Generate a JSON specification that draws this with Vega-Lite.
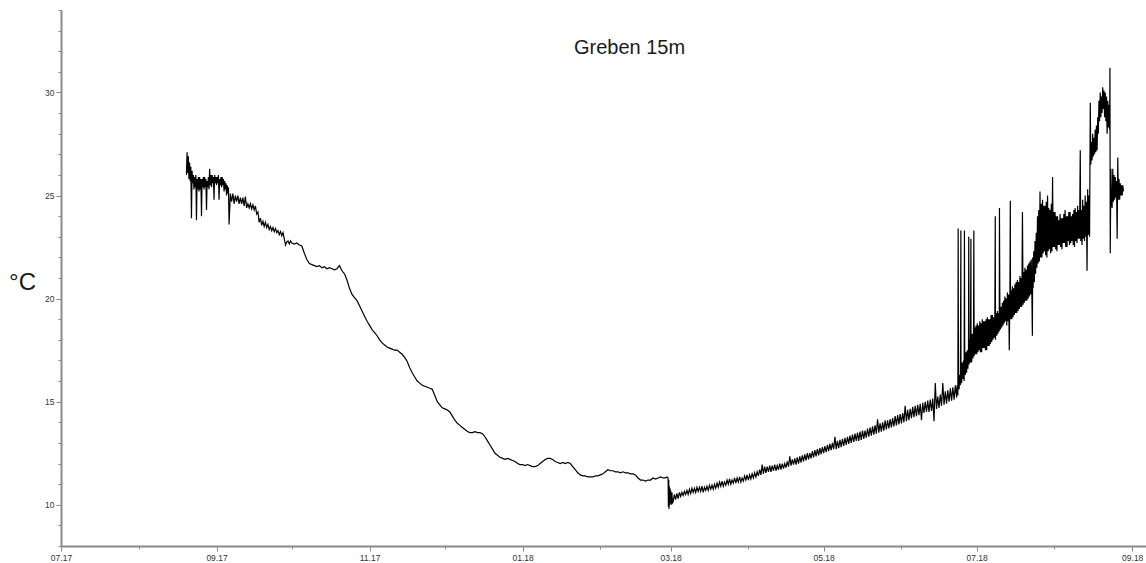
{
"$schema":"https://vega.github.io/schema/vega-lite/v6.json",
"width":1085,"height":536,
"autosize":{"type":"none"},
"padding":{"left":61,"top":10,"right":0,"bottom":17},
"background":"#ffffff",
"config":{"view":{"stroke":null},"font":"Liberation Sans"},
"title":{"text":"Greben 15m","fontSize":20,"fontWeight":"normal","font":"Liberation Sans","color":"#1a1a1a","anchor":"middle","frame":"group","offset":0,"dx":26,"dy":68,"baseline":"alphabetic"},
"data":{"values":[
{"d":"2017-08-20T00:00","t":26.0},{"d":"2017-08-20T06:00","t":27.1},{"d":"2017-08-20T12:00","t":26.1},{"d":"2017-08-20T18:00","t":26.9},
{"d":"2017-08-21T00:00","t":25.8},{"d":"2017-08-21T06:00","t":26.6},{"d":"2017-08-21T12:00","t":25.7},{"d":"2017-08-21T18:00","t":26.4},
{"d":"2017-08-22T00:00","t":23.9},{"d":"2017-08-22T06:00","t":26.2},{"d":"2017-08-22T12:00","t":25.6},{"d":"2017-08-22T18:00","t":26.0},
{"d":"2017-08-23T00:00","t":25.3},{"d":"2017-08-23T06:00","t":25.9},{"d":"2017-08-23T12:00","t":25.4},{"d":"2017-08-23T18:00","t":26.0},
{"d":"2017-08-24T00:00","t":23.8},{"d":"2017-08-24T06:00","t":25.8},{"d":"2017-08-24T12:00","t":25.3},{"d":"2017-08-24T18:00","t":25.9},
{"d":"2017-08-25T00:00","t":25.2},{"d":"2017-08-25T06:00","t":25.9},{"d":"2017-08-25T12:00","t":25.3},{"d":"2017-08-25T18:00","t":25.8},
{"d":"2017-08-26T00:00","t":24.0},{"d":"2017-08-26T06:00","t":25.8},{"d":"2017-08-26T12:00","t":25.4},{"d":"2017-08-26T18:00","t":25.9},
{"d":"2017-08-27T00:00","t":25.3},{"d":"2017-08-27T06:00","t":25.9},{"d":"2017-08-27T12:00","t":25.4},{"d":"2017-08-27T18:00","t":25.8},
{"d":"2017-08-28T00:00","t":24.3},{"d":"2017-08-28T06:00","t":25.7},{"d":"2017-08-28T12:00","t":25.4},{"d":"2017-08-28T18:00","t":25.9},
{"d":"2017-08-29T00:00","t":25.3},{"d":"2017-08-29T06:00","t":26.3},{"d":"2017-08-29T12:00","t":25.5},{"d":"2017-08-29T18:00","t":26.0},
{"d":"2017-08-30T00:00","t":25.4},{"d":"2017-08-30T06:00","t":26.0},{"d":"2017-08-30T12:00","t":25.6},{"d":"2017-08-30T18:00","t":25.9},
{"d":"2017-08-31T00:00","t":24.8},{"d":"2017-08-31T06:00","t":26.0},{"d":"2017-08-31T12:00","t":25.6},{"d":"2017-08-31T18:00","t":25.9},
{"d":"2017-09-01T00:00","t":25.5},{"d":"2017-09-01T06:00","t":25.9},{"d":"2017-09-01T12:00","t":25.6},{"d":"2017-09-01T18:00","t":26.0},
{"d":"2017-09-02T00:00","t":24.8},{"d":"2017-09-02T06:00","t":25.8},{"d":"2017-09-02T12:00","t":25.5},{"d":"2017-09-02T18:00","t":25.9},
{"d":"2017-09-03T00:00","t":25.4},{"d":"2017-09-03T06:00","t":25.9},{"d":"2017-09-03T12:00","t":25.5},{"d":"2017-09-03T18:00","t":25.8},
{"d":"2017-09-04T00:00","t":25.2},{"d":"2017-09-04T06:00","t":25.7},{"d":"2017-09-04T12:00","t":25.3},{"d":"2017-09-04T18:00","t":25.6},
{"d":"2017-09-05T00:00","t":25.0},{"d":"2017-09-05T06:00","t":25.5},{"d":"2017-09-05T12:00","t":25.1},{"d":"2017-09-05T18:00","t":25.4},
{"d":"2017-09-06T00:00","t":23.6},{"d":"2017-09-06T12:00","t":25.1},
{"d":"2017-09-07T00:00","t":24.7},{"d":"2017-09-07T12:00","t":25.1},
{"d":"2017-09-08T00:00","t":24.6},{"d":"2017-09-08T12:00","t":25.0},
{"d":"2017-09-09T00:00","t":24.7},{"d":"2017-09-09T12:00","t":25.0},
{"d":"2017-09-10T00:00","t":24.6},{"d":"2017-09-10T12:00","t":24.9},
{"d":"2017-09-11T00:00","t":24.6},{"d":"2017-09-11T12:00","t":24.9},
{"d":"2017-09-12T00:00","t":24.5},{"d":"2017-09-12T12:00","t":24.95},
{"d":"2017-09-13T00:00","t":24.4},{"d":"2017-09-13T12:00","t":24.6},
{"d":"2017-09-14T00:00","t":24.4},{"d":"2017-09-14T12:00","t":24.6},
{"d":"2017-09-15T00:00","t":24.35},{"d":"2017-09-15T12:00","t":24.55},
{"d":"2017-09-16T00:00","t":24.3},{"d":"2017-09-16T12:00","t":24.5},
{"d":"2017-09-17T00:00","t":24.1},{"d":"2017-09-17T12:00","t":24.2},
{"d":"2017-09-18T00:00","t":23.7},{"d":"2017-09-18T12:00","t":23.9},
{"d":"2017-09-19T00:00","t":23.55},{"d":"2017-09-19T12:00","t":23.75},
{"d":"2017-09-20T00:00","t":23.5},{"d":"2017-09-20T12:00","t":23.7},
{"d":"2017-09-21T00:00","t":23.45},{"d":"2017-09-21T12:00","t":23.6},
{"d":"2017-09-22T00:00","t":23.35},{"d":"2017-09-22T12:00","t":23.5},
{"d":"2017-09-23T00:00","t":23.3},{"d":"2017-09-23T12:00","t":23.45},
{"d":"2017-09-24T00:00","t":23.25},{"d":"2017-09-24T12:00","t":23.4},
{"d":"2017-09-25T00:00","t":23.2},{"d":"2017-09-25T12:00","t":23.3},
{"d":"2017-09-26T00:00","t":23.1},{"d":"2017-09-26T12:00","t":23.25},
{"d":"2017-09-27T00:00","t":23.05},{"d":"2017-09-27T12:00","t":23.2},
{"d":"2017-09-28T00:00","t":22.9},{"d":"2017-09-28T12:00","t":22.6},
{"d":"2017-09-29T00:00","t":22.75},{"d":"2017-09-29T12:00","t":22.8},
{"d":"2017-09-30T00:00","t":22.65},{"d":"2017-09-30T12:00","t":22.8},
{"d":"2017-10-01T00:00","t":22.7},{"d":"2017-10-02T00:00","t":22.65},{"d":"2017-10-03T00:00","t":22.7},{"d":"2017-10-04T00:00","t":22.6},{"d":"2017-10-05T00:00","t":22.55},
{"d":"2017-10-06T00:00","t":22.2},{"d":"2017-10-07T00:00","t":21.9},{"d":"2017-10-08T00:00","t":21.7},{"d":"2017-10-09T00:00","t":21.65},{"d":"2017-10-10T00:00","t":21.6},
{"d":"2017-10-11T00:00","t":21.55},{"d":"2017-10-12T00:00","t":21.6},{"d":"2017-10-13T00:00","t":21.5},{"d":"2017-10-14T00:00","t":21.55},{"d":"2017-10-15T00:00","t":21.45},
{"d":"2017-10-16T00:00","t":21.5},{"d":"2017-10-17T00:00","t":21.45},{"d":"2017-10-18T00:00","t":21.4},{"d":"2017-10-19T00:00","t":21.45},{"d":"2017-10-20T00:00","t":21.6},
{"d":"2017-10-21T00:00","t":21.35},{"d":"2017-10-22T00:00","t":21.2},{"d":"2017-10-23T00:00","t":20.9},{"d":"2017-10-24T00:00","t":20.5},{"d":"2017-10-25T00:00","t":20.2},
{"d":"2017-10-26T00:00","t":20.05},{"d":"2017-10-27T00:00","t":19.9},{"d":"2017-10-28T00:00","t":19.65},{"d":"2017-10-29T00:00","t":19.4},{"d":"2017-10-30T00:00","t":19.15},
{"d":"2017-10-31T00:00","t":18.9},{"d":"2017-11-01T00:00","t":18.7},{"d":"2017-11-02T00:00","t":18.5},{"d":"2017-11-03T00:00","t":18.35},{"d":"2017-11-04T00:00","t":18.2},
{"d":"2017-11-05T00:00","t":18.0},{"d":"2017-11-06T00:00","t":17.85},{"d":"2017-11-07T00:00","t":17.75},{"d":"2017-11-08T00:00","t":17.65},{"d":"2017-11-09T00:00","t":17.6},
{"d":"2017-11-10T00:00","t":17.55},{"d":"2017-11-11T00:00","t":17.5},{"d":"2017-11-12T00:00","t":17.5},{"d":"2017-11-13T00:00","t":17.4},{"d":"2017-11-14T00:00","t":17.3},
{"d":"2017-11-15T00:00","t":17.15},{"d":"2017-11-16T00:00","t":16.95},{"d":"2017-11-17T00:00","t":16.65},{"d":"2017-11-18T00:00","t":16.4},{"d":"2017-11-19T00:00","t":16.2},
{"d":"2017-11-20T00:00","t":16.0},{"d":"2017-11-21T00:00","t":15.9},{"d":"2017-11-22T00:00","t":15.8},{"d":"2017-11-23T00:00","t":15.75},{"d":"2017-11-24T00:00","t":15.7},
{"d":"2017-11-25T00:00","t":15.65},{"d":"2017-11-26T00:00","t":15.6},{"d":"2017-11-27T00:00","t":15.3},{"d":"2017-11-28T00:00","t":15.0},{"d":"2017-11-29T00:00","t":14.85},
{"d":"2017-11-30T00:00","t":14.7},{"d":"2017-12-01T00:00","t":14.65},{"d":"2017-12-02T00:00","t":14.6},{"d":"2017-12-03T00:00","t":14.5},{"d":"2017-12-04T00:00","t":14.3},
{"d":"2017-12-05T00:00","t":14.1},{"d":"2017-12-06T00:00","t":13.95},{"d":"2017-12-07T00:00","t":13.85},{"d":"2017-12-08T00:00","t":13.75},{"d":"2017-12-09T00:00","t":13.65},
{"d":"2017-12-10T00:00","t":13.55},{"d":"2017-12-11T00:00","t":13.5},{"d":"2017-12-12T00:00","t":13.5},{"d":"2017-12-13T00:00","t":13.55},{"d":"2017-12-14T00:00","t":13.5},
{"d":"2017-12-15T00:00","t":13.5},{"d":"2017-12-16T00:00","t":13.45},{"d":"2017-12-17T00:00","t":13.3},{"d":"2017-12-18T00:00","t":13.1},{"d":"2017-12-19T00:00","t":12.9},
{"d":"2017-12-20T00:00","t":12.7},{"d":"2017-12-21T00:00","t":12.5},{"d":"2017-12-22T00:00","t":12.4},{"d":"2017-12-23T00:00","t":12.3},{"d":"2017-12-24T00:00","t":12.25},
{"d":"2017-12-25T00:00","t":12.2},{"d":"2017-12-26T00:00","t":12.25},{"d":"2017-12-27T00:00","t":12.2},{"d":"2017-12-28T00:00","t":12.15},{"d":"2017-12-29T00:00","t":12.1},
{"d":"2017-12-30T00:00","t":12.0},{"d":"2017-12-31T00:00","t":11.95},{"d":"2018-01-01T00:00","t":11.95},{"d":"2018-01-02T00:00","t":11.9},{"d":"2018-01-03T00:00","t":11.95},
{"d":"2018-01-04T00:00","t":11.9},{"d":"2018-01-05T00:00","t":11.85},{"d":"2018-01-06T00:00","t":11.85},{"d":"2018-01-07T00:00","t":11.9},{"d":"2018-01-08T00:00","t":12.0},
{"d":"2018-01-09T00:00","t":12.1},{"d":"2018-01-10T00:00","t":12.2},{"d":"2018-01-11T00:00","t":12.25},{"d":"2018-01-12T00:00","t":12.25},{"d":"2018-01-13T00:00","t":12.2},
{"d":"2018-01-14T00:00","t":12.1},{"d":"2018-01-15T00:00","t":12.05},{"d":"2018-01-16T00:00","t":12.0},{"d":"2018-01-17T00:00","t":12.05},{"d":"2018-01-18T00:00","t":12.0},
{"d":"2018-01-19T00:00","t":12.05},{"d":"2018-01-20T00:00","t":12.0},{"d":"2018-01-21T00:00","t":11.85},{"d":"2018-01-22T00:00","t":11.7},{"d":"2018-01-23T00:00","t":11.55},
{"d":"2018-01-24T00:00","t":11.45},{"d":"2018-01-25T00:00","t":11.4},{"d":"2018-01-26T00:00","t":11.4},{"d":"2018-01-27T00:00","t":11.35},{"d":"2018-01-28T00:00","t":11.35},
{"d":"2018-01-29T00:00","t":11.35},{"d":"2018-01-30T00:00","t":11.4},{"d":"2018-01-31T00:00","t":11.4},{"d":"2018-02-01T00:00","t":11.45},{"d":"2018-02-02T00:00","t":11.5},
{"d":"2018-02-03T00:00","t":11.6},{"d":"2018-02-04T00:00","t":11.7},{"d":"2018-02-05T00:00","t":11.65},{"d":"2018-02-06T00:00","t":11.65},{"d":"2018-02-07T00:00","t":11.6},
{"d":"2018-02-08T00:00","t":11.6},{"d":"2018-02-09T00:00","t":11.55},{"d":"2018-02-10T00:00","t":11.6},{"d":"2018-02-11T00:00","t":11.55},{"d":"2018-02-12T00:00","t":11.55},
{"d":"2018-02-13T00:00","t":11.5},{"d":"2018-02-14T00:00","t":11.5},{"d":"2018-02-15T00:00","t":11.45},{"d":"2018-02-16T00:00","t":11.3},{"d":"2018-02-17T00:00","t":11.2},
{"d":"2018-02-18T00:00","t":11.2},{"d":"2018-02-19T00:00","t":11.15},{"d":"2018-02-20T00:00","t":11.2},{"d":"2018-02-21T00:00","t":11.2},{"d":"2018-02-22T00:00","t":11.3},
{"d":"2018-02-23T00:00","t":11.25},{"d":"2018-02-24T00:00","t":11.3},{"d":"2018-02-25T00:00","t":11.35},{"d":"2018-02-26T00:00","t":11.3},
{"d":"2018-02-27T00:00","t":11.3},{"d":"2018-02-27T12:00","t":11.35},
{"d":"2018-02-28T00:00","t":11.3},{"d":"2018-02-28T03:00","t":9.9},{"d":"2018-02-28T06:00","t":11.2},{"d":"2018-02-28T09:00","t":9.8},{"d":"2018-02-28T12:00","t":10.9},{"d":"2018-02-28T15:00","t":10.0},{"d":"2018-02-28T18:00","t":10.8},{"d":"2018-02-28T21:00","t":10.1},
{"d":"2018-03-01T00:00","t":10.7},{"d":"2018-03-01T06:00","t":10.0},{"d":"2018-03-01T12:00","t":10.6},{"d":"2018-03-01T18:00","t":10.1},
{"d":"2018-03-02T00:00","t":10.15},{"d":"2018-03-02T12:00","t":10.5},
{"d":"2018-03-03T00:00","t":10.25},{"d":"2018-03-03T12:00","t":10.55},
{"d":"2018-03-04T00:00","t":10.3},{"d":"2018-03-04T12:00","t":10.6},
{"d":"2018-03-05T00:00","t":10.4},{"d":"2018-03-05T12:00","t":10.6},
{"d":"2018-03-06T00:00","t":10.45},{"d":"2018-03-06T12:00","t":10.65},
{"d":"2018-03-07T00:00","t":10.5},{"d":"2018-03-07T12:00","t":10.7},
{"d":"2018-03-08T00:00","t":10.5},{"d":"2018-03-08T12:00","t":10.75},
{"d":"2018-03-09T00:00","t":10.55},{"d":"2018-03-09T12:00","t":10.8},
{"d":"2018-03-10T00:00","t":10.6},{"d":"2018-03-10T12:00","t":10.8},
{"d":"2018-03-11T00:00","t":10.6},{"d":"2018-03-11T12:00","t":10.85},
{"d":"2018-03-12T00:00","t":10.65},{"d":"2018-03-12T12:00","t":10.85},
{"d":"2018-03-13T00:00","t":10.65},{"d":"2018-03-13T12:00","t":10.9},
{"d":"2018-03-14T00:00","t":10.6},{"d":"2018-03-14T12:00","t":10.85},
{"d":"2018-03-15T00:00","t":10.7},{"d":"2018-03-15T12:00","t":10.9},
{"d":"2018-03-16T00:00","t":10.7},{"d":"2018-03-16T12:00","t":10.95},
{"d":"2018-03-17T00:00","t":10.75},{"d":"2018-03-17T12:00","t":10.95},
{"d":"2018-03-18T00:00","t":10.75},{"d":"2018-03-18T12:00","t":11.0},
{"d":"2018-03-19T00:00","t":10.8},{"d":"2018-03-19T12:00","t":11.05},
{"d":"2018-03-20T00:00","t":10.85},{"d":"2018-03-20T12:00","t":11.1},
{"d":"2018-03-21T00:00","t":10.9},{"d":"2018-03-21T12:00","t":11.15},
{"d":"2018-03-22T00:00","t":10.9},{"d":"2018-03-22T12:00","t":11.1},
{"d":"2018-03-23T00:00","t":10.95},{"d":"2018-03-23T12:00","t":11.2},
{"d":"2018-03-24T00:00","t":11.0},{"d":"2018-03-24T12:00","t":11.25},
{"d":"2018-03-25T00:00","t":11.0},{"d":"2018-03-25T12:00","t":11.2},
{"d":"2018-03-26T00:00","t":11.05},{"d":"2018-03-26T12:00","t":11.3},
{"d":"2018-03-27T00:00","t":11.05},{"d":"2018-03-27T12:00","t":11.3},
{"d":"2018-03-28T00:00","t":11.1},{"d":"2018-03-28T12:00","t":11.35},
{"d":"2018-03-29T00:00","t":11.1},{"d":"2018-03-29T12:00","t":11.3},
{"d":"2018-03-30T00:00","t":11.15},{"d":"2018-03-30T12:00","t":11.4},
{"d":"2018-03-31T00:00","t":11.2},{"d":"2018-03-31T12:00","t":11.45},
{"d":"2018-04-01T00:00","t":11.2},{"d":"2018-04-01T12:00","t":11.45},
{"d":"2018-04-02T00:00","t":11.25},{"d":"2018-04-02T12:00","t":11.5},
{"d":"2018-04-03T00:00","t":11.3},{"d":"2018-04-03T12:00","t":11.55},
{"d":"2018-04-04T00:00","t":11.35},{"d":"2018-04-04T12:00","t":11.6},
{"d":"2018-04-05T00:00","t":11.4},{"d":"2018-04-05T12:00","t":11.7},
{"d":"2018-04-06T00:00","t":11.45},{"d":"2018-04-06T12:00","t":11.95},
{"d":"2018-04-07T00:00","t":11.5},{"d":"2018-04-07T12:00","t":11.85},
{"d":"2018-04-08T00:00","t":11.55},{"d":"2018-04-08T12:00","t":11.85},
{"d":"2018-04-09T00:00","t":11.6},{"d":"2018-04-09T12:00","t":11.9},
{"d":"2018-04-10T00:00","t":11.6},{"d":"2018-04-10T12:00","t":11.9},
{"d":"2018-04-11T00:00","t":11.65},{"d":"2018-04-11T12:00","t":11.95},
{"d":"2018-04-12T00:00","t":11.65},{"d":"2018-04-12T12:00","t":11.9},
{"d":"2018-04-13T00:00","t":11.7},{"d":"2018-04-13T12:00","t":12.0},
{"d":"2018-04-14T00:00","t":11.7},{"d":"2018-04-14T12:00","t":12.0},
{"d":"2018-04-15T00:00","t":11.75},{"d":"2018-04-15T12:00","t":12.0},
{"d":"2018-04-16T00:00","t":11.8},{"d":"2018-04-16T12:00","t":12.1},
{"d":"2018-04-17T00:00","t":11.85},{"d":"2018-04-17T12:00","t":12.35},
{"d":"2018-04-18T00:00","t":11.9},{"d":"2018-04-18T12:00","t":12.2},
{"d":"2018-04-19T00:00","t":11.95},{"d":"2018-04-19T12:00","t":12.25},
{"d":"2018-04-20T00:00","t":11.95},{"d":"2018-04-20T12:00","t":12.3},
{"d":"2018-04-21T00:00","t":12.0},{"d":"2018-04-21T12:00","t":12.35},
{"d":"2018-04-22T00:00","t":12.05},{"d":"2018-04-22T12:00","t":12.4},
{"d":"2018-04-23T00:00","t":12.1},{"d":"2018-04-23T12:00","t":12.45},
{"d":"2018-04-24T00:00","t":12.15},{"d":"2018-04-24T12:00","t":12.5},
{"d":"2018-04-25T00:00","t":12.2},{"d":"2018-04-25T12:00","t":12.5},
{"d":"2018-04-26T00:00","t":12.25},{"d":"2018-04-26T12:00","t":12.6},
{"d":"2018-04-27T00:00","t":12.3},{"d":"2018-04-27T12:00","t":12.65},
{"d":"2018-04-28T00:00","t":12.35},{"d":"2018-04-28T12:00","t":12.7},
{"d":"2018-04-29T00:00","t":12.4},{"d":"2018-04-29T12:00","t":12.75},
{"d":"2018-04-30T00:00","t":12.45},{"d":"2018-04-30T12:00","t":12.8},
{"d":"2018-05-01T00:00","t":12.5},{"d":"2018-05-01T12:00","t":12.85},
{"d":"2018-05-02T00:00","t":12.55},{"d":"2018-05-02T12:00","t":12.9},
{"d":"2018-05-03T00:00","t":12.6},{"d":"2018-05-03T12:00","t":12.95},
{"d":"2018-05-04T00:00","t":12.65},{"d":"2018-05-04T12:00","t":13.0},
{"d":"2018-05-05T00:00","t":12.7},{"d":"2018-05-05T12:00","t":13.3},
{"d":"2018-05-06T00:00","t":12.7},{"d":"2018-05-06T12:00","t":13.1},
{"d":"2018-05-07T00:00","t":12.75},{"d":"2018-05-07T12:00","t":13.15},
{"d":"2018-05-08T00:00","t":12.8},{"d":"2018-05-08T12:00","t":13.2},
{"d":"2018-05-09T00:00","t":12.85},{"d":"2018-05-09T12:00","t":13.25},
{"d":"2018-05-10T00:00","t":12.9},{"d":"2018-05-10T12:00","t":13.3},
{"d":"2018-05-11T00:00","t":12.95},{"d":"2018-05-11T12:00","t":13.35},
{"d":"2018-05-12T00:00","t":13.0},{"d":"2018-05-12T12:00","t":13.4},
{"d":"2018-05-13T00:00","t":13.05},{"d":"2018-05-13T12:00","t":13.45},
{"d":"2018-05-14T00:00","t":13.1},{"d":"2018-05-14T12:00","t":13.5},
{"d":"2018-05-15T00:00","t":13.1},{"d":"2018-05-15T12:00","t":13.55},
{"d":"2018-05-16T00:00","t":13.15},{"d":"2018-05-16T12:00","t":13.6},
{"d":"2018-05-17T00:00","t":13.2},{"d":"2018-05-17T12:00","t":13.6},
{"d":"2018-05-18T00:00","t":13.25},{"d":"2018-05-18T12:00","t":13.7},
{"d":"2018-05-19T00:00","t":13.3},{"d":"2018-05-19T12:00","t":13.75},
{"d":"2018-05-20T00:00","t":13.35},{"d":"2018-05-20T12:00","t":13.8},
{"d":"2018-05-21T00:00","t":13.4},{"d":"2018-05-21T12:00","t":13.85},
{"d":"2018-05-22T00:00","t":13.45},{"d":"2018-05-22T12:00","t":14.15},
{"d":"2018-05-23T00:00","t":13.5},{"d":"2018-05-23T12:00","t":13.95},
{"d":"2018-05-24T00:00","t":13.55},{"d":"2018-05-24T12:00","t":14.0},
{"d":"2018-05-25T00:00","t":13.6},{"d":"2018-05-25T12:00","t":14.1},
{"d":"2018-05-26T00:00","t":13.65},{"d":"2018-05-26T12:00","t":14.1},
{"d":"2018-05-27T00:00","t":13.7},{"d":"2018-05-27T12:00","t":14.15},
{"d":"2018-05-28T00:00","t":13.75},{"d":"2018-05-28T12:00","t":14.2},
{"d":"2018-05-29T00:00","t":13.8},{"d":"2018-05-29T12:00","t":14.3},
{"d":"2018-05-30T00:00","t":13.85},{"d":"2018-05-30T12:00","t":14.35},
{"d":"2018-05-31T00:00","t":13.9},{"d":"2018-05-31T12:00","t":14.4},
{"d":"2018-06-01T00:00","t":13.95},{"d":"2018-06-01T12:00","t":14.45},
{"d":"2018-06-02T00:00","t":14.0},{"d":"2018-06-02T12:00","t":14.8},
{"d":"2018-06-03T00:00","t":14.05},{"d":"2018-06-03T12:00","t":14.6},
{"d":"2018-06-04T00:00","t":14.1},{"d":"2018-06-04T12:00","t":14.65},
{"d":"2018-06-05T00:00","t":14.2},{"d":"2018-06-05T12:00","t":14.75},
{"d":"2018-06-06T00:00","t":14.25},{"d":"2018-06-06T12:00","t":14.8},
{"d":"2018-06-07T00:00","t":14.3},{"d":"2018-06-07T12:00","t":14.85},
{"d":"2018-06-08T00:00","t":14.35},{"d":"2018-06-08T12:00","t":14.9},
{"d":"2018-06-09T00:00","t":14.1},{"d":"2018-06-09T12:00","t":14.95},
{"d":"2018-06-10T00:00","t":14.45},{"d":"2018-06-10T12:00","t":15.0},
{"d":"2018-06-11T00:00","t":14.5},{"d":"2018-06-11T12:00","t":15.05},
{"d":"2018-06-12T00:00","t":14.5},{"d":"2018-06-12T12:00","t":15.1},
{"d":"2018-06-13T00:00","t":14.55},{"d":"2018-06-13T12:00","t":15.15},
{"d":"2018-06-14T00:00","t":14.05},{"d":"2018-06-14T12:00","t":15.9},
{"d":"2018-06-15T00:00","t":14.65},{"d":"2018-06-15T12:00","t":15.25},
{"d":"2018-06-16T00:00","t":14.7},{"d":"2018-06-16T12:00","t":15.35},
{"d":"2018-06-17T00:00","t":14.8},{"d":"2018-06-17T12:00","t":15.9},
{"d":"2018-06-18T00:00","t":14.85},{"d":"2018-06-18T12:00","t":15.5},
{"d":"2018-06-19T00:00","t":14.9},{"d":"2018-06-19T12:00","t":15.55},
{"d":"2018-06-20T00:00","t":15.0},{"d":"2018-06-20T12:00","t":15.65},
{"d":"2018-06-21T00:00","t":15.05},{"d":"2018-06-21T12:00","t":15.7},
{"d":"2018-06-22T00:00","t":15.1},{"d":"2018-06-22T12:00","t":15.8},
{"d":"2018-06-23T00:00","t":15.2},{"d":"2018-06-23T06:00","t":15.8},{"d":"2018-06-23T12:00","t":15.3},{"d":"2018-06-23T15:00","t":23.4},{"d":"2018-06-23T18:00","t":15.9},
{"d":"2018-06-24T00:00","t":15.6},{"d":"2018-06-24T06:00","t":16.3},{"d":"2018-06-24T12:00","t":15.8},{"d":"2018-06-24T17:00","t":23.3},{"d":"2018-06-24T18:00","t":16.5},
{"d":"2018-06-25T00:00","t":15.9},{"d":"2018-06-25T06:00","t":16.9},{"d":"2018-06-25T12:00","t":16.1},{"d":"2018-06-25T18:00","t":17.0},
{"d":"2018-06-26T00:00","t":16.0},{"d":"2018-06-26T03:00","t":23.3},{"d":"2018-06-26T06:00","t":17.2},{"d":"2018-06-26T12:00","t":16.3},{"d":"2018-06-26T18:00","t":17.4},
{"d":"2018-06-27T00:00","t":16.4},{"d":"2018-06-27T06:00","t":17.5},{"d":"2018-06-27T12:00","t":16.6},{"d":"2018-06-27T18:00","t":17.6},{"d":"2018-06-27T20:00","t":23.0},
{"d":"2018-06-28T00:00","t":16.8},{"d":"2018-06-28T06:00","t":18.0},{"d":"2018-06-28T12:00","t":16.9},{"d":"2018-06-28T17:00","t":22.9},{"d":"2018-06-28T18:00","t":18.2},
{"d":"2018-06-29T00:00","t":16.9},{"d":"2018-06-29T06:00","t":18.3},{"d":"2018-06-29T12:00","t":17.1},{"d":"2018-06-29T18:00","t":18.4},{"d":"2018-06-29T21:00","t":23.3},
{"d":"2018-06-30T00:00","t":17.2},{"d":"2018-06-30T06:00","t":18.6},{"d":"2018-06-30T12:00","t":17.3},{"d":"2018-06-30T18:00","t":18.7},
{"d":"2018-07-01T00:00","t":17.3},{"d":"2018-07-01T06:00","t":18.8},{"d":"2018-07-01T12:00","t":17.4},{"d":"2018-07-01T18:00","t":18.7},
{"d":"2018-07-02T00:00","t":17.5},{"d":"2018-07-02T06:00","t":18.9},{"d":"2018-07-02T12:00","t":17.4},{"d":"2018-07-02T18:00","t":18.8},
{"d":"2018-07-03T00:00","t":17.4},{"d":"2018-07-03T06:00","t":19.0},{"d":"2018-07-03T12:00","t":17.6},{"d":"2018-07-03T18:00","t":18.9},
{"d":"2018-07-04T00:00","t":17.6},{"d":"2018-07-04T06:00","t":18.9},{"d":"2018-07-04T12:00","t":17.5},{"d":"2018-07-04T18:00","t":19.0},
{"d":"2018-07-05T00:00","t":17.5},{"d":"2018-07-05T06:00","t":19.1},{"d":"2018-07-05T12:00","t":17.7},{"d":"2018-07-05T18:00","t":19.0},
{"d":"2018-07-06T00:00","t":17.7},{"d":"2018-07-06T06:00","t":19.0},{"d":"2018-07-06T12:00","t":17.8},{"d":"2018-07-06T18:00","t":19.2},
{"d":"2018-07-07T00:00","t":17.9},{"d":"2018-07-07T06:00","t":19.2},{"d":"2018-07-07T12:00","t":18.0},{"d":"2018-07-07T18:00","t":19.1},
{"d":"2018-07-08T00:00","t":18.1},{"d":"2018-07-08T06:00","t":19.2},{"d":"2018-07-08T10:00","t":24.0},{"d":"2018-07-08T12:00","t":18.0},{"d":"2018-07-08T18:00","t":19.3},
{"d":"2018-07-09T00:00","t":18.2},{"d":"2018-07-09T06:00","t":19.4},{"d":"2018-07-09T12:00","t":18.3},{"d":"2018-07-09T18:00","t":19.3},
{"d":"2018-07-10T00:00","t":18.4},{"d":"2018-07-10T02:00","t":24.4},{"d":"2018-07-10T06:00","t":19.5},{"d":"2018-07-10T12:00","t":18.5},{"d":"2018-07-10T18:00","t":19.6},
{"d":"2018-07-11T00:00","t":18.6},{"d":"2018-07-11T06:00","t":19.8},{"d":"2018-07-11T12:00","t":18.7},{"d":"2018-07-11T18:00","t":19.9},
{"d":"2018-07-12T00:00","t":18.8},{"d":"2018-07-12T06:00","t":20.1},{"d":"2018-07-12T12:00","t":18.9},{"d":"2018-07-12T18:00","t":20.0},
{"d":"2018-07-13T00:00","t":18.7},{"d":"2018-07-13T06:00","t":20.3},{"d":"2018-07-13T12:00","t":18.9},{"d":"2018-07-13T18:00","t":20.2},
{"d":"2018-07-14T00:00","t":17.5},{"d":"2018-07-14T06:00","t":20.3},{"d":"2018-07-14T10:00","t":24.75},{"d":"2018-07-14T12:00","t":19.0},{"d":"2018-07-14T18:00","t":20.4},
{"d":"2018-07-15T00:00","t":19.0},{"d":"2018-07-15T06:00","t":20.6},{"d":"2018-07-15T12:00","t":19.1},{"d":"2018-07-15T18:00","t":20.5},
{"d":"2018-07-16T00:00","t":19.2},{"d":"2018-07-16T06:00","t":20.7},{"d":"2018-07-16T12:00","t":19.3},{"d":"2018-07-16T18:00","t":20.8},
{"d":"2018-07-17T00:00","t":19.3},{"d":"2018-07-17T06:00","t":20.9},{"d":"2018-07-17T12:00","t":19.4},{"d":"2018-07-17T18:00","t":20.8},
{"d":"2018-07-18T00:00","t":19.5},{"d":"2018-07-18T06:00","t":21.1},{"d":"2018-07-18T12:00","t":19.6},{"d":"2018-07-18T18:00","t":21.0},
{"d":"2018-07-19T00:00","t":19.6},{"d":"2018-07-19T06:00","t":24.2},{"d":"2018-07-19T12:00","t":19.7},{"d":"2018-07-19T18:00","t":21.3},
{"d":"2018-07-20T00:00","t":19.8},{"d":"2018-07-20T06:00","t":21.5},{"d":"2018-07-20T12:00","t":19.9},{"d":"2018-07-20T18:00","t":21.4},
{"d":"2018-07-21T00:00","t":19.9},{"d":"2018-07-21T06:00","t":21.6},{"d":"2018-07-21T12:00","t":20.0},{"d":"2018-07-21T18:00","t":21.7},
{"d":"2018-07-22T00:00","t":20.1},{"d":"2018-07-22T06:00","t":21.8},{"d":"2018-07-22T12:00","t":20.2},{"d":"2018-07-22T18:00","t":21.9},
{"d":"2018-07-23T00:00","t":20.3},{"d":"2018-07-23T05:00","t":18.2},{"d":"2018-07-23T08:00","t":22.0},{"d":"2018-07-23T12:00","t":20.5},{"d":"2018-07-23T18:00","t":22.3},
{"d":"2018-07-24T00:00","t":20.8},{"d":"2018-07-24T06:00","t":22.8},{"d":"2018-07-24T12:00","t":21.2},{"d":"2018-07-24T18:00","t":23.2},
{"d":"2018-07-25T00:00","t":21.5},{"d":"2018-07-25T06:00","t":24.0},{"d":"2018-07-25T12:00","t":21.7},{"d":"2018-07-25T18:00","t":24.3},
{"d":"2018-07-26T00:00","t":21.8},{"d":"2018-07-26T06:00","t":25.2},{"d":"2018-07-26T12:00","t":22.0},{"d":"2018-07-26T18:00","t":24.6},
{"d":"2018-07-27T00:00","t":22.0},{"d":"2018-07-27T06:00","t":24.8},{"d":"2018-07-27T12:00","t":22.2},{"d":"2018-07-27T18:00","t":24.5},
{"d":"2018-07-28T00:00","t":22.3},{"d":"2018-07-28T06:00","t":24.5},{"d":"2018-07-28T12:00","t":22.1},{"d":"2018-07-28T18:00","t":24.7},
{"d":"2018-07-29T00:00","t":22.0},{"d":"2018-07-29T06:00","t":25.0},{"d":"2018-07-29T12:00","t":22.3},{"d":"2018-07-29T18:00","t":24.4},
{"d":"2018-07-30T00:00","t":22.4},{"d":"2018-07-30T06:00","t":24.3},{"d":"2018-07-30T12:00","t":22.2},{"d":"2018-07-30T18:00","t":24.6},
{"d":"2018-07-31T00:00","t":22.3},{"d":"2018-07-31T06:00","t":25.9},{"d":"2018-07-31T12:00","t":22.5},{"d":"2018-07-31T18:00","t":24.2},
{"d":"2018-08-01T00:00","t":22.5},{"d":"2018-08-01T06:00","t":24.2},{"d":"2018-08-01T12:00","t":22.4},{"d":"2018-08-01T18:00","t":24.0},
{"d":"2018-08-02T00:00","t":22.3},{"d":"2018-08-02T06:00","t":24.0},{"d":"2018-08-02T12:00","t":22.6},{"d":"2018-08-02T18:00","t":23.8},
{"d":"2018-08-03T00:00","t":22.6},{"d":"2018-08-03T06:00","t":24.1},{"d":"2018-08-03T12:00","t":22.5},{"d":"2018-08-03T18:00","t":23.9},
{"d":"2018-08-04T00:00","t":22.4},{"d":"2018-08-04T06:00","t":23.9},{"d":"2018-08-04T12:00","t":22.7},{"d":"2018-08-04T18:00","t":24.1},
{"d":"2018-08-05T00:00","t":22.7},{"d":"2018-08-05T06:00","t":24.3},{"d":"2018-08-05T12:00","t":22.5},{"d":"2018-08-05T18:00","t":24.0},
{"d":"2018-08-06T00:00","t":22.5},{"d":"2018-08-06T06:00","t":24.0},{"d":"2018-08-06T12:00","t":22.8},{"d":"2018-08-06T18:00","t":24.2},
{"d":"2018-08-07T00:00","t":22.6},{"d":"2018-08-07T06:00","t":24.2},{"d":"2018-08-07T12:00","t":22.7},{"d":"2018-08-07T18:00","t":24.0},
{"d":"2018-08-08T00:00","t":22.8},{"d":"2018-08-08T06:00","t":24.1},{"d":"2018-08-08T12:00","t":22.6},{"d":"2018-08-08T18:00","t":24.3},
{"d":"2018-08-09T00:00","t":22.5},{"d":"2018-08-09T06:00","t":24.4},{"d":"2018-08-09T12:00","t":22.8},{"d":"2018-08-09T18:00","t":24.2},
{"d":"2018-08-10T00:00","t":22.7},{"d":"2018-08-10T06:00","t":24.5},{"d":"2018-08-10T12:00","t":22.9},{"d":"2018-08-10T18:00","t":24.3},
{"d":"2018-08-11T00:00","t":22.9},{"d":"2018-08-11T07:00","t":27.2},{"d":"2018-08-11T12:00","t":22.8},{"d":"2018-08-11T18:00","t":24.3},
{"d":"2018-08-12T00:00","t":22.6},{"d":"2018-08-12T06:00","t":24.8},{"d":"2018-08-12T12:00","t":22.9},{"d":"2018-08-12T18:00","t":24.5},
{"d":"2018-08-13T00:00","t":22.8},{"d":"2018-08-13T06:00","t":25.0},{"d":"2018-08-13T12:00","t":23.0},{"d":"2018-08-13T18:00","t":24.7},
{"d":"2018-08-14T00:00","t":21.35},{"d":"2018-08-14T06:00","t":25.3},{"d":"2018-08-14T12:00","t":23.1},{"d":"2018-08-14T18:00","t":25.0},
{"d":"2018-08-15T00:00","t":23.0},{"d":"2018-08-15T07:00","t":29.5},{"d":"2018-08-15T12:00","t":26.5},{"d":"2018-08-15T18:00","t":27.6},
{"d":"2018-08-16T00:00","t":26.7},{"d":"2018-08-16T06:00","t":28.0},{"d":"2018-08-16T12:00","t":26.9},{"d":"2018-08-16T18:00","t":27.8},
{"d":"2018-08-17T00:00","t":27.0},{"d":"2018-08-17T06:00","t":28.2},{"d":"2018-08-17T12:00","t":27.1},{"d":"2018-08-17T18:00","t":28.4},
{"d":"2018-08-18T00:00","t":27.2},{"d":"2018-08-18T06:00","t":28.8},{"d":"2018-08-18T12:00","t":28.0},{"d":"2018-08-18T18:00","t":29.6},
{"d":"2018-08-19T00:00","t":28.6},{"d":"2018-08-19T06:00","t":30.0},{"d":"2018-08-19T12:00","t":28.8},{"d":"2018-08-19T18:00","t":29.8},
{"d":"2018-08-20T00:00","t":29.0},{"d":"2018-08-20T06:00","t":30.25},{"d":"2018-08-20T12:00","t":29.2},{"d":"2018-08-20T18:00","t":30.1},
{"d":"2018-08-21T00:00","t":28.8},{"d":"2018-08-21T06:00","t":30.0},{"d":"2018-08-21T12:00","t":28.6},{"d":"2018-08-21T18:00","t":29.8},
{"d":"2018-08-22T00:00","t":28.0},{"d":"2018-08-22T06:00","t":29.6},{"d":"2018-08-22T12:00","t":28.3},{"d":"2018-08-22T18:00","t":29.4},
{"d":"2018-08-23T00:00","t":28.2},{"d":"2018-08-23T03:00","t":31.2},{"d":"2018-08-23T06:00","t":22.2},{"d":"2018-08-23T12:00","t":26.3},{"d":"2018-08-23T18:00","t":24.6},
{"d":"2018-08-24T00:00","t":24.4},{"d":"2018-08-24T06:00","t":26.3},{"d":"2018-08-24T12:00","t":24.7},{"d":"2018-08-24T18:00","t":26.0},
{"d":"2018-08-25T00:00","t":24.8},{"d":"2018-08-25T06:00","t":25.9},{"d":"2018-08-25T12:00","t":24.9},{"d":"2018-08-25T18:00","t":25.7},
{"d":"2018-08-26T00:00","t":22.9},{"d":"2018-08-26T06:00","t":26.85},{"d":"2018-08-26T12:00","t":24.8},{"d":"2018-08-26T18:00","t":25.8},
{"d":"2018-08-27T00:00","t":24.8},{"d":"2018-08-27T06:00","t":25.6},{"d":"2018-08-27T12:00","t":25.0},{"d":"2018-08-27T18:00","t":25.5},
{"d":"2018-08-28T00:00","t":25.0},{"d":"2018-08-28T06:00","t":25.5},{"d":"2018-08-28T12:00","t":25.2}
]},
"mark":{"type":"line","color":"#000000","strokeWidth":1.2,"interpolate":"linear"},
"encoding":{
"x":{"field":"d","type":"temporal","scale":{"domain":[{"year":2017,"month":7,"date":1},{"year":2018,"month":9,"date":6,"hours":12}]},
"axis":{"title":null,"grid":false,"tickCount":{"interval":"month","step":1},"labelExpr":"month(datum.value) % 2 == 0 ? timeFormat(datum.value, '%m.%y') : ''","tickSize":{"condition":{"test":"month(datum.value) % 2 == 0","value":5},"value":3},"domainColor":"#8a8a8a","domainWidth":2,"tickColor":"#8a8a8a","tickWidth":1,"labelFontSize":8.5,"labelColor":"#333333","labelPadding":2,"labelFlush":false,"labelOverlap":false}},
"y":{"field":"t","type":"quantitative","scale":{"domain":[8,34],"nice":false,"zero":false},
"axis":{"title":"°C","titleAngle":0,"titleFontSize":24,"titleFontWeight":"normal","titleColor":"#1a1a1a","titleX":-39,"titleY":272,"titleAlign":"center","titleBaseline":"middle","grid":false,"values":[8,9,10,11,12,13,14,15,16,17,18,19,20,21,22,23,24,25,26,27,28,29,30,31,32,33,34],"labelExpr":"datum.value % 5 == 0 ? datum.label : ''","tickSize":{"condition":{"test":"datum.value % 5 == 0","value":5},"value":3},"domainColor":"#8a8a8a","domainWidth":2,"tickColor":"#8a8a8a","tickWidth":1,"labelFontSize":8.5,"labelColor":"#333333","labelPadding":2,"labelOverlap":false}}
}
}
